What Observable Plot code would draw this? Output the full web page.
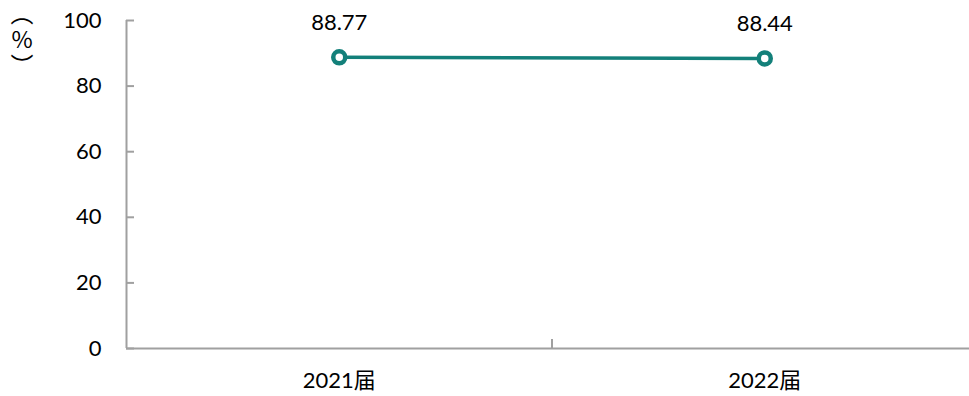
<!DOCTYPE html>
<html><head><meta charset="utf-8">
<script src="https://cdn.jsdelivr.net/npm/d3@7"></script>
<script src="https://cdn.jsdelivr.net/npm/@observablehq/plot@0.6"></script>
<style>
body{margin:0;background:#fff;}
#wrap{position:relative;width:969px;height:396px;font-family:Lato,"Noto Sans CJK SC",sans-serif;}
#ylab{position:absolute;z-index:2;left:10px;top:2px;writing-mode:vertical-rl;text-orientation:upright;font-size:23px;line-height:24px;letter-spacing:3px;color:#000;font-family:"Noto Sans CJK SC",sans-serif;}
</style></head><body>
<div id="wrap"><div id="ylab"></div></div>
<script>
const categories = ["2021届", "2022届"];
const values = [88.77, 88.44];
const yTicks = [0, 20, 40, 60, 80, 100];
const unitLabel = "（%）";

document.getElementById("ylab").textContent = unitLabel;
const data = categories.map((c, i) => ({category: c, pos: i + 0.5, value: values[i]}));
const teal = "#13807a";
const axisColor = "#a0a0a0";

const chart = Plot.plot({
  width: 969, height: 396,
  marginLeft: 126, marginRight: -8, marginTop: 20, marginBottom: 48,
  style: {fontFamily: 'Lato, "Noto Sans CJK SC", sans-serif', fontSize: "22px", color: "#000", background: "#fff", overflow: "hidden"},
  x: {domain: [0, categories.length], axis: null},
  y: {domain: [0, 100], axis: null},
  marks: [
    Plot.ruleY([0], {stroke: axisColor, strokeWidth: 2}),
    Plot.ruleX([0], {y1: 0, y2: 100, stroke: axisColor, strokeWidth: 2}),
    Plot.axisY({ticks: yTicks, label: null, tickSize: -8, tickPadding: 33, stroke: axisColor, strokeWidth: 2, fill: "#000", fontSize: 22, strokeOpacity: 1}),
    Plot.axisX({ticks: d3.range(1, categories.length), label: null, tickSize: -9, tickFormat: () => "", stroke: axisColor, strokeWidth: 2, strokeOpacity: 1}),
    Plot.axisX({ticks: data.map(d => d.pos), label: null, tickSize: 0, tickPadding: 24, tickFormat: p => categories[Math.floor(p)], fill: "#000", fontSize: 22}),
    Plot.line(data, {x: "pos", y: "value", stroke: teal, strokeWidth: 3.5}),
    Plot.dot(data, {x: "pos", y: "value", r: 6, fill: "white", stroke: teal, strokeWidth: 4.5}),
    Plot.text(data, {x: "pos", y: "value", text: d => d.value.toFixed(2), dy: -34, fontSize: 22, fill: "#000"})
  ]
});
document.getElementById("wrap").appendChild(chart);
</script>
</body></html>
